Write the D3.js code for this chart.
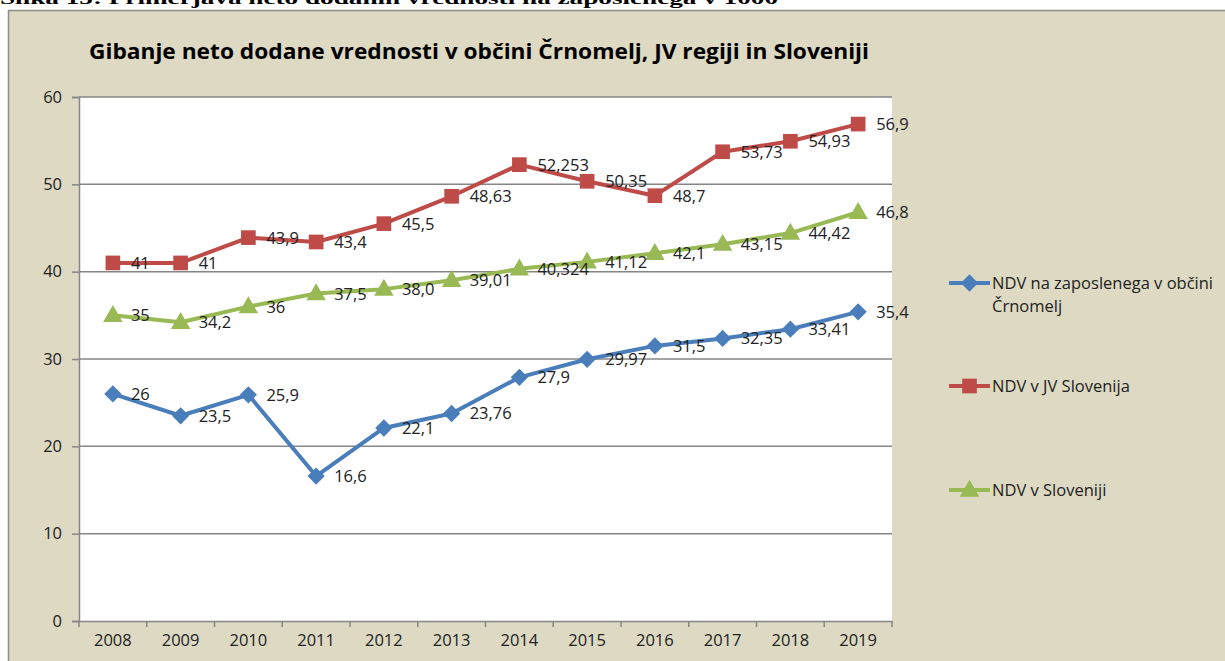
<!DOCTYPE html>
<html><head><meta charset="utf-8">
<script src="https://cdn.jsdelivr.net/npm/d3@7"></script>
<style>html,body{margin:0;padding:0;background:#fff;overflow:hidden}svg{display:block}</style>
</head><body>
<script>
const years = ["2008","2009","2010","2011","2012","2013","2014","2015","2016","2017","2018","2019"];
const blueVals = [26, 23.5, 25.9, 16.6, 22.1, 23.76, 27.9, 29.97, 31.5, 32.35, 33.41, 35.4];
const blueLabels = ["26","23,5","25,9","16,6","22,1","23,76","27,9","29,97","31,5","32,35","33,41","35,4"];
const redVals = [41, 41, 43.9, 43.4, 45.5, 48.63, 52.253, 50.35, 48.7, 53.73, 54.93, 56.9];
const redLabels = ["41","41","43,9","43,4","45,5","48,63","52,253","50,35","48,7","53,73","54,93","56,9"];
const greenVals = [35, 34.2, 36, 37.5, 38.0, 39.01, 40.324, 41.12, 42.1, 43.15, 44.42, 46.8];
const greenLabels = ["35","34,2","36","37,5","38,0","39,01","40,324","41,12","42,1","43,15","44,42","46,8"];
const yTicks = [0,10,20,30,40,50,60];
const seriesNames = ["NDV na zaposlenega v občini Črnomelj","NDV v JV Slovenija","NDV v Sloveniji"];
const titleText = "Gibanje neto dodane vrednosti v občini Črnomelj, JV regiji in Sloveniji";
const captionText = "Slika 15: Primerjava neto dodanih vrednosti na zaposlenega v 1000";

const W=1225,H=661;
const font = "'Open Sans', 'DejaVu Sans', sans-serif";
const fs = 16.5;
const svg = d3.select("body").append("svg").attr("width",W).attr("height",H);
svg.append("rect").attr("width",W).attr("height",H).attr("fill","#fff");

// caption (cut off at top, as in the reference)
svg.append("text").attr("x",0).attr("y",4)
  .attr("font-family","'Liberation Serif', serif").attr("font-weight","bold")
  .attr("font-size",17).attr("textLength",778).attr("lengthAdjust","spacingAndGlyphs")
  .attr("fill","#000").text(captionText);

// chart frame
svg.append("rect").attr("x",8.5).attr("y",10.5).attr("width",W).attr("height",H)
  .attr("fill","#ddd9c3").attr("stroke","#8c8c8c").attr("stroke-width",1.5);

const L=79,R=892,T=97,B=621;
const x = d3.scaleBand().domain(years).range([L,R]);
const y = d3.scaleLinear().domain([0,60]).range([B,T]);
const cx = d => x(d)+x.bandwidth()/2;

svg.append("rect").attr("x",L).attr("y",T).attr("width",R-L).attr("height",B-T).attr("fill","#fff");

// gridlines
svg.append("g").selectAll("line").data(yTicks.filter(v=>v>0)).join("line")
  .attr("x1",L).attr("x2",R).attr("y1",d=>y(d)).attr("y2",d=>y(d))
  .attr("stroke","#868686").attr("stroke-width",1.5);

// axes
const yAxis = svg.append("g").attr("transform",`translate(${L},0)`)
  .call(d3.axisLeft(y).tickValues(yTicks).tickSize(7).tickPadding(10).tickFormat(d=>d));
yAxis.select(".domain").attr("stroke","#868686").attr("stroke-width",1.5);
yAxis.selectAll(".tick line").attr("stroke","#868686").attr("stroke-width",1.5);
yAxis.selectAll("text").attr("font-family",font).attr("font-size",fs).attr("fill","#222");

const xAxis = svg.append("g").attr("transform",`translate(0,${B})`)
  .call(d3.axisBottom(x).tickSize(0).tickPadding(13));
xAxis.select(".domain").attr("stroke","#868686").attr("stroke-width",1.5);
xAxis.selectAll("text").attr("font-family",font).attr("font-size",fs).attr("fill","#222");
const bounds = years.map(d=>x(d)).concat([R]);
svg.append("g").selectAll("line").data(bounds).join("line")
  .attr("x1",d=>d).attr("x2",d=>d).attr("y1",B).attr("y2",B+6)
  .attr("stroke","#868686").attr("stroke-width",1.5);

// title
svg.append("text").attr("x",479).attr("y",59).attr("text-anchor","middle")
  .attr("font-family",font).attr("font-weight","bold").attr("font-size",21)
  .attr("textLength",780).attr("lengthAdjust","spacingAndGlyphs")
  .attr("fill","#000").text(titleText);

const series = [
  {vals:blueVals, labels:blueLabels, color:"#4a7ebb", marker:"diamond"},
  {vals:redVals, labels:redLabels, color:"#be4b48", marker:"square"},
  {vals:greenVals, labels:greenLabels, color:"#98b954", marker:"triangle"}
];
const sym = {
  diamond: d3.symbol().type(d3.symbolDiamond2).size(190),
  square: d3.symbol().type(d3.symbolSquare).size(215),
  triangle: d3.symbol().type(d3.symbolTriangle).size(165)
};
const line = d3.line().x((d,i)=>cx(years[i])).y(d=>y(d));

series.forEach(s=>{
  const g = svg.append("g");
  g.append("path").attr("d",line(s.vals)).attr("fill","none")
    .attr("stroke",s.color).attr("stroke-width",4).attr("stroke-linejoin","round");
  g.selectAll("path.m").data(s.vals).join("path").attr("class","m")
    .attr("d",sym[s.marker])
    .attr("transform",(d,i)=>`translate(${cx(years[i])},${y(d)+(s.marker==="triangle"?1:0)})`)
    .attr("fill",s.color);
});
series.forEach(s=>{
  svg.append("g").selectAll("text").data(s.vals).join("text")
    .attr("x",(d,i)=>cx(years[i])+18).attr("y",d=>y(d)+6)
    .attr("font-family",font).attr("font-size",fs).attr("fill","#222")
    .text((d,i)=>s.labels[i]);
});

// legend
const legY = [283,386,490];
series.forEach((s,i)=>{
  const g = svg.append("g").attr("transform",`translate(0,${legY[i]})`);
  g.append("line").attr("x1",949).attr("x2",990).attr("y1",0).attr("y2",0)
    .attr("stroke",s.color).attr("stroke-width",4);
  g.append("path").attr("d",sym[s.marker]).attr("transform",`translate(969.5,${s.marker==="triangle"?1:0})`).attr("fill",s.color);
});
const legText = svg.append("g").attr("font-family",font).attr("font-size",fs).attr("fill","#222");
legText.append("text").attr("x",992).attr("y",289).text("NDV na zaposlenega v občini");
legText.append("text").attr("x",992).attr("y",312).text("Črnomelj");
legText.append("text").attr("x",992).attr("y",392).text(seriesNames[1]);
legText.append("text").attr("x",992).attr("y",496).text(seriesNames[2]);
</script>
</body></html>
